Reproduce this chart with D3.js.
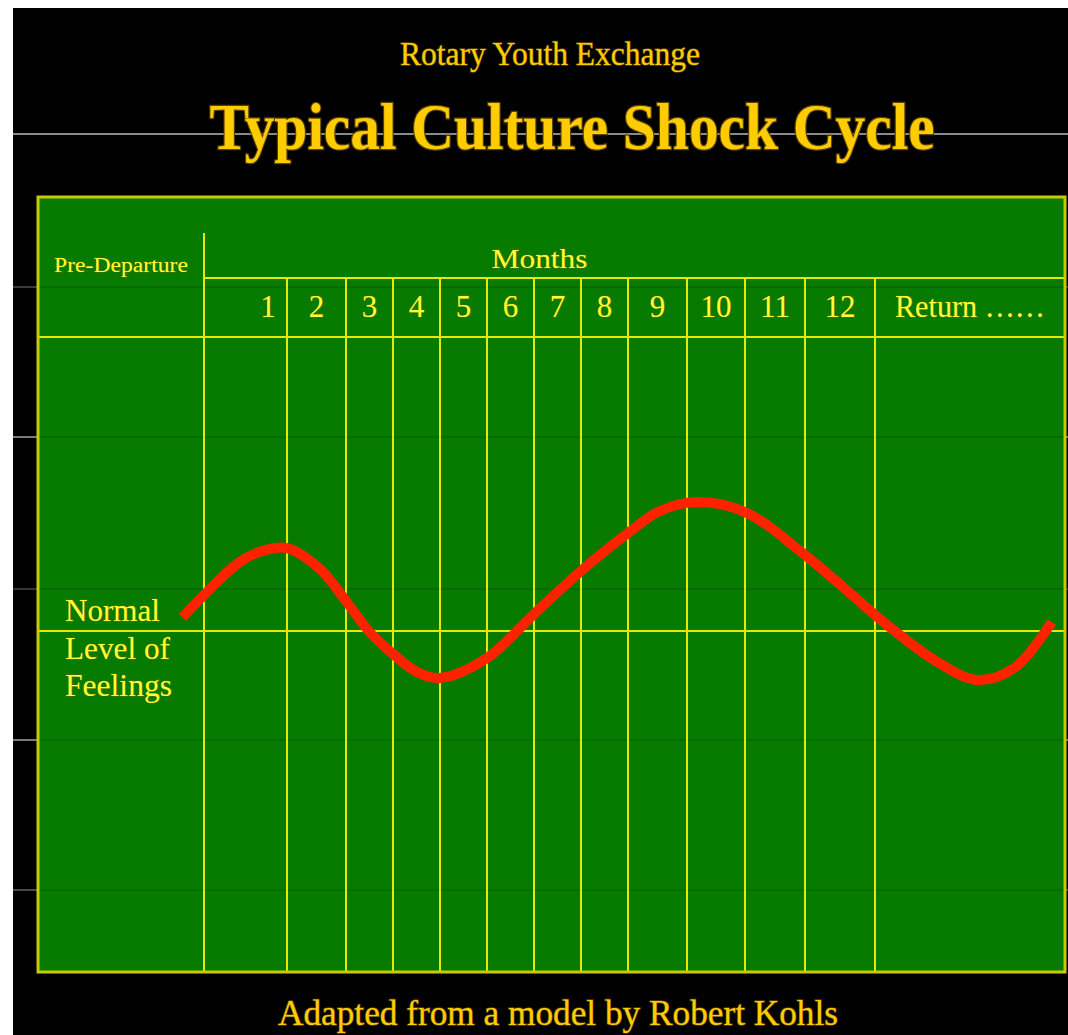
<!DOCTYPE html>
<html>
<head>
<meta charset="utf-8">
<script src="https://cdn.jsdelivr.net/npm/d3@7"></script>
<style>
  html, body { margin: 0; padding: 0; background: #ffffff; }
  svg { display: block; }
</style>
</head>
<body>
<script>
// ---------------- data ----------------
const subtitleText = "Rotary Youth Exchange";
const titleText = "Typical Culture Shock Cycle";
const footerText = "Adapted from a model by Robert Kohls";
const preDepartureLabel = "Pre-Departure";
const monthsLabel = "Months";
const columnLabels = ["1","2","3","4","5","6","7","8","9","10","11","12","Return ……"];
const normalLabelLines = ["Normal", "Level of", "Feelings"];
// curve: month position (0 = departure, 12 = end of month 12, 13 = end of Return column) and feeling level (0 = normal)
const curveMonths = [-0.13, 0, 0.43, 0.70, 1, 1.56, 2, 2.51, 3, 3.51, 4, 5, 6, 7, 8, 8.54, 9.17, 10, 11, 12, 12.09, 12.32, 12.54, 12.74, 12.93];
const curveLevels = [0.09, 0.24, 0.46, 0.533, 0.553, 0.413, 0.20, -0.01, -0.153, -0.273, -0.313, -0.18, 0.113, 0.40, 0.653, 0.80, 0.86, 0.793, 0.507, 0.107, 0.013, -0.20, -0.327, -0.24, 0.06];

// ---------------- layout ----------------
const W = 1068, H = 1035;
const panel = { left: 38, top: 197, right: 1065, bottom: 972 };
const colWidths = [166, 83, 59, 47, 47, 47, 47, 47, 47, 59, 58, 60, 70, 190]; // pre-departure, months 1..12, return
const headerLine1 = 278, headerLine2 = 337, preDepLineTop = 233;
const bgLines = [
  { y: 134, c: "#8a8a8a" }, { y: 287, c: "#3a3a3a" }, { y: 437, c: "#7a7a7a" },
  { y: 589, c: "#333333" }, { y: 740, c: "#7a7a7a" }, { y: 890, c: "#4a4a4a" }
];

const edges = [panel.left];
colWidths.forEach(w => edges.push(edges[edges.length - 1] + w));
const x = d3.scaleLinear().domain(d3.range(-1, 14)).range(edges);
const y = d3.scaleLinear().domain([-1, 1]).range([631 + 150, 631 - 150]);

const svg = d3.select("body").append("svg").attr("width", W).attr("height", H);
const serif = "'Liberation Serif', 'DejaVu Serif', serif";

// background
svg.append("rect").attr("x", 0).attr("y", 0).attr("width", W).attr("height", H).attr("fill", "#ffffff");
svg.append("rect").attr("x", 13).attr("y", 8).attr("width", W - 13).attr("height", H - 8).attr("fill", "#000000");

// faint grey rules behind
svg.selectAll("line.bg").data(bgLines).join("line")
  .attr("class", "bg").attr("x1", 13).attr("x2", W).attr("y1", d => d.y).attr("y2", d => d.y)
  .attr("stroke", d => d.c).attr("stroke-width", 2);

// titles
function goldText(t, cx, by, size, len, bold) {
  svg.append("text").attr("x", cx).attr("y", by).attr("text-anchor", "middle")
    .attr("font-family", serif).attr("font-size", size).attr("font-weight", bold ? "bold" : "normal")
    .attr("textLength", len).attr("lengthAdjust", "spacingAndGlyphs")
    .attr("fill", "#FFCC00").attr("stroke", "#5a4200").attr("stroke-width", bold ? 2.5 : 1.4)
    .attr("paint-order", "stroke").text(t);
}
goldText(subtitleText, 550, 65, 33, 300, false);
goldText(titleText, 572, 149, 66, 725, true);
goldText(footerText, 558, 1025, 35, 560, false);

// green panel
svg.append("rect").attr("x", panel.left).attr("y", panel.top)
  .attr("width", panel.right - panel.left).attr("height", panel.bottom - panel.top)
  .attr("fill", "#077A00");

// faint dark rules across the panel
svg.selectAll("line.dk").data(bgLines.filter(d => d.y > panel.top && d.y < panel.bottom)).join("line")
  .attr("class", "dk").attr("x1", panel.left).attr("x2", panel.right).attr("y1", d => d.y).attr("y2", d => d.y)
  .attr("stroke", "rgba(0,0,0,0.12)").attr("stroke-width", 2);

const grid = svg.append("g").attr("stroke", "#E8E800").attr("stroke-width", 2).attr("fill", "none");
// pre-departure divider
grid.append("line").attr("x1", x(0)).attr("x2", x(0)).attr("y1", preDepLineTop).attr("y2", panel.bottom);
// month dividers
grid.selectAll("line.col").data(d3.range(1, 13)).join("line").attr("class", "col")
  .attr("x1", d => x(d)).attr("x2", d => x(d)).attr("y1", headerLine1).attr("y2", panel.bottom);
// header rules
grid.append("line").attr("x1", x(0)).attr("x2", panel.right).attr("y1", headerLine1).attr("y2", headerLine1);
grid.append("line").attr("x1", panel.left).attr("x2", panel.right).attr("y1", headerLine2).attr("y2", headerLine2);
// normal level
grid.append("line").attr("x1", panel.left).attr("x2", panel.right).attr("y1", y(0)).attr("y2", y(0));
// border
svg.append("rect").attr("x", panel.left).attr("y", panel.top)
  .attr("width", panel.right - panel.left).attr("height", panel.bottom - panel.top)
  .attr("fill", "none").attr("stroke", "#C9C900").attr("stroke-width", 3);

// panel texts
function yText(t, px, py, size, anchor, len) {
  const el = svg.append("text").attr("x", px).attr("y", py).attr("text-anchor", anchor)
    .attr("font-family", serif).attr("font-size", size)
    .attr("fill", "#FFFF33").attr("stroke", "#5a6a00").attr("stroke-width", 1)
    .attr("paint-order", "stroke").text(t);
  if (len) el.attr("textLength", len).attr("lengthAdjust", "spacingAndGlyphs");
  return el;
}
yText(preDepartureLabel, (x(-1) + x(0)) / 2, 272, 20, "middle", 134);
yText(monthsLabel, (x(0) + x(12)) / 2, 268, 28, "middle", 96);
columnLabels.forEach((lab, i) => {
  const cx = i === 0 ? x(1) - 19 : (x(i) + x(i + 1)) / 2;
  yText(lab, cx, 317, 31, "middle", lab.length > 3 ? 150 : null);
});
const normalLens = [95, 105, 107];
normalLabelLines.forEach((t, i) => yText(t, 65, 621 + i * 37.5, 31, "start", normalLens[i]));

// curve
const pts = curveMonths.map((m, i) => [x(m), y(curveLevels[i])]);
svg.append("path").datum(pts)
  .attr("d", d3.line().curve(d3.curveCatmullRom.alpha(0.5)))
  .attr("fill", "none").attr("stroke", "#FF2200").attr("stroke-width", 10).attr("stroke-linecap", "butt");
</script>
</body>
</html>
